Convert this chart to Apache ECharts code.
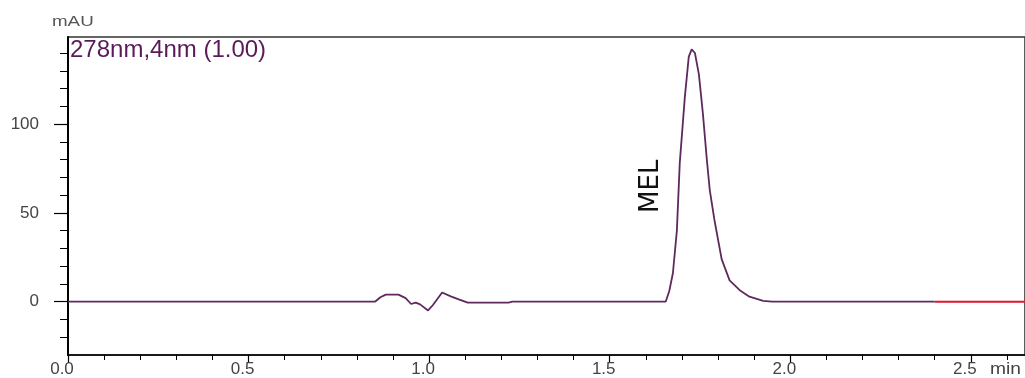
<!DOCTYPE html>
<html><head><meta charset="utf-8">
<script src="https://cdn.jsdelivr.net/npm/echarts@6/dist/echarts.min.js"></script>
<style>html,body{margin:0;padding:0;background:#fff}#c{width:1025px;height:378px}</style>
</head><body><div id="c"></div>
<script>
// retention time (min)
var times = [0, 0.85, 0.865, 0.88, 0.915, 0.935, 0.95, 0.963, 0.975, 0.997, 1.01, 1.036, 1.06, 1.08, 1.107, 1.22, 1.23,
  1.655, 1.665, 1.675, 1.686, 1.694, 1.708, 1.719, 1.727, 1.736, 1.747, 1.758, 1.769, 1.777, 1.79, 1.81, 1.832, 1.86, 1.887, 1.925, 1.95, 2.4];
// absorbance (mAU)
var values = [0, 0, 2.5, 4, 4, 2, -1.3, -0.5, -1.5, -4.9, -2, 5.2, 3, 1.5, -0.5, -0.5, 0,
  0, 6, 16, 40, 78, 115, 138, 142, 140, 128, 106, 80, 63, 46, 24, 12, 6.5, 2.8, 0.5, 0, 0];
var redTimes = [2.4, 2.65];
var redValues = [0, 0];
var xMajorTicks = [0, 0.5, 1.0, 1.5, 2.0, 2.5];
var xMinorTicks = [0.1, 0.2, 0.3, 0.4, 0.6, 0.7, 0.8, 0.9, 1.1, 1.2, 1.3, 1.4, 1.6, 1.7, 1.8, 1.9, 2.1, 2.2, 2.3, 2.4, 2.6];
var yMajorTicks = [0, 50, 100];
var yMinorTicks = [-20, -10, 10, 20, 30, 40, 60, 70, 80, 90, 110, 120, 130, 140];
var peakName = 'MEL';
var peakLabelPos = [1.614, 65];
var channelTitle = '278nm,4nm (1.00)';
var yUnit = 'mAU';
var xUnit = 'min';

var chart = echarts.init(document.getElementById('c'));
var font = 'Liberation Sans, Arial, sans-serif';
function pairs(xs, ys){ return xs.map(function(x,i){ return [x, ys[i]]; }); }
var xMin = 0, xMax = 2.65, yMin = -30, yMax = 149;
chart.setOption({
  animation: false,
  grid: { left: 68, top: 37, right: -5, bottom: 23, show: true, borderColor: '#333', borderWidth: 1.6, backgroundColor: '#fff' },
  xAxis: [{
    type: 'value', min: xMin, max: xMax,
    axisLine: { show: true, onZero: false, lineStyle: { color: '#000', width: 1.5 } },
    axisTick: { show: true, customValues: xMajorTicks, length: 8, lineStyle: { color: '#000', width: 1.2 } },
    axisLabel: { customValues: xMajorTicks, formatter: function(v){ return v.toFixed(1); }, margin: 6, padding: [0, 12, 0, 0], fontFamily: font, fontSize: 17, color: '#444' },
    splitLine: { show: false }
  }, {
    type: 'value', min: xMin, max: xMax, position: 'bottom',
    axisLine: { show: false, onZero: false },
    axisTick: { show: true, customValues: xMinorTicks, length: 5, lineStyle: { color: '#000', width: 1 } },
    axisLabel: { show: false }, splitLine: { show: false }
  }],
  yAxis: [{
    type: 'value', min: yMin, max: yMax,
    axisLine: { show: true, onZero: false, lineStyle: { color: '#000', width: 2 } },
    axisTick: { show: true, customValues: yMajorTicks, length: 14, lineStyle: { color: '#000', width: 1.2 } },
    axisLabel: { customValues: yMajorTicks, margin: 29, fontFamily: font, fontSize: 17, color: '#444' },
    splitLine: { show: false }
  }, {
    type: 'value', min: yMin, max: yMax, position: 'left',
    axisLine: { show: false, onZero: false },
    axisTick: { show: true, customValues: yMinorTicks, length: 8, lineStyle: { color: '#000', width: 1 } },
    axisLabel: { show: false }, splitLine: { show: false }
  }],
  graphic: [
    { type: 'text', x: 52, y: 14, scaleX: 1.25, style: { text: yUnit, fontFamily: font, fontSize: 15, fill: '#555' } },
    { type: 'text', x: 990, y: 362, scaleX: 1.2, style: { text: xUnit, fontFamily: font, fontSize: 16, fill: '#444' } },
    { type: 'text', x: 70, y: 38, z: 10, style: { text: channelTitle, fontFamily: font, fontSize: 24, fill: '#5a1a5a' } }
  ],
  series: [{
    type: 'line', data: pairs(times, values), showSymbol: false, symbol: 'none',
    lineStyle: { color: '#5e2a5e', width: 1.8 }, z: 3,
    markPoint: {
      symbol: 'circle', symbolSize: 0,
      data: [{ coord: peakLabelPos, name: peakName }],
      label: { show: true, formatter: peakName, rotate: 90, fontFamily: 'DejaVu Sans, sans-serif', fontSize: 26, color: '#111', position: 'inside' }
    }
  }, {
    type: 'line', data: pairs(redTimes, redValues), showSymbol: false, symbol: 'none',
    lineStyle: { color: '#e0142a', width: 2 }, z: 4
  }]
});
</script></body></html>
